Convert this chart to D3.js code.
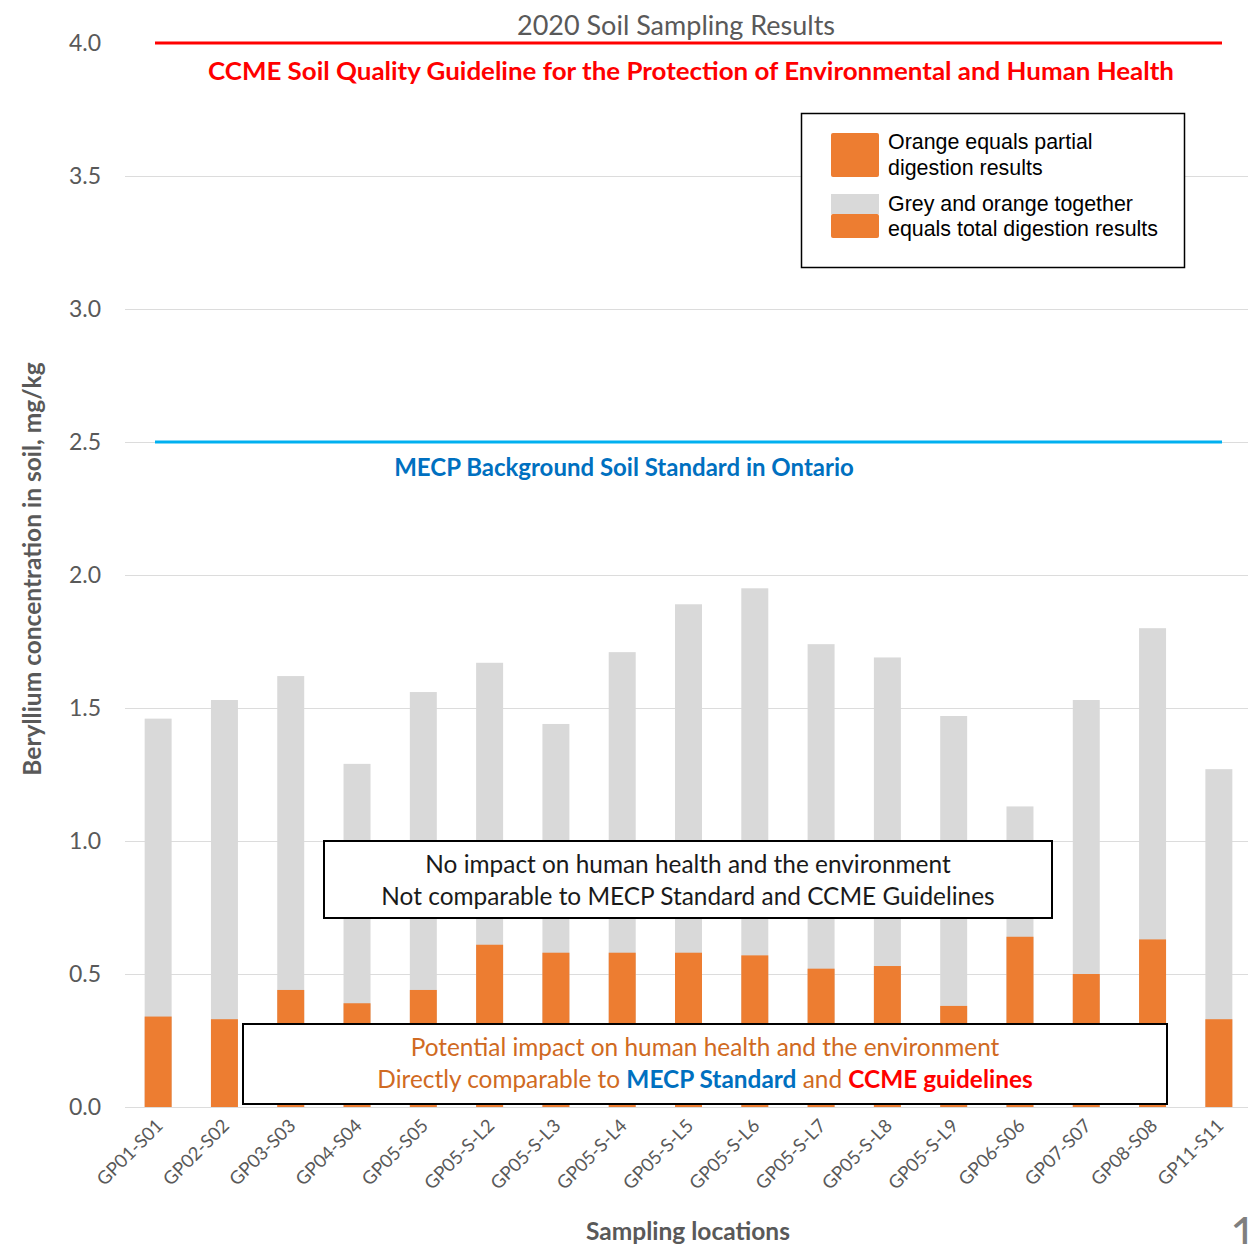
<!DOCTYPE html>
<html>
<head>
<meta charset="utf-8">
<script src="https://cdn.jsdelivr.net/npm/d3@7"></script>
<style>
  html, body { margin: 0; padding: 0; background: #fff; }
  svg { display: block; }
</style>
</head>
<body>
<svg id="chart" width="1248" height="1244"></svg>
<script>
// Sampling locations along the x axis
const categories = [
  "GP01-S01", "GP02-S02", "GP03-S03", "GP04-S04", "GP05-S05",
  "GP05-S-L2", "GP05-S-L3", "GP05-S-L4", "GP05-S-L5", "GP05-S-L6",
  "GP05-S-L7", "GP05-S-L8", "GP05-S-L9", "GP06-S06", "GP07-S07",
  "GP08-S08", "GP11-S11"
];

// Beryllium, mg/kg: total digestion (grey + orange) and partial digestion (orange)
const totalDigestion = [
  1.46, 1.53, 1.62, 1.29, 1.56,
  1.67, 1.44, 1.71, 1.89, 1.95,
  1.74, 1.69, 1.47, 1.13, 1.53,
  1.80, 1.27
];
const partialDigestion = [
  0.34, 0.33, 0.44, 0.39, 0.44,
  0.61, 0.58, 0.58, 0.58, 0.57,
  0.52, 0.53, 0.38, 0.64, 0.50,
  0.63, 0.33
];

// Reference levels
const ccmeGuideline = 4.0;
const mecpStandard = 2.5;

// Y axis tick values
const yTicks = [0, 0.5, 1.0, 1.5, 2.0, 2.5, 3.0, 3.5, 4.0];

const svg = d3.select("#chart");
const calibri = "Lato, 'Open Sans', sans-serif";
const arial = "'Liberation Sans', Arial, sans-serif";
const textGrey = "#595959";

const plotLeft = 125, plotRight = 1248;
const y = d3.scaleLinear().domain([0, 4]).range([1107, 43]);
const x = d3.scaleBand()
  .domain(categories)
  .range([plotLeft, 1252])
  .paddingInner(0.593)
  .paddingOuter(0.2965);

// Horizontal gridlines
svg.append("g")
  .selectAll("line")
  .data(yTicks.filter(v => v < 4))
  .join("line")
  .attr("x1", plotLeft).attr("x2", plotRight)
  .attr("y1", d => Math.round(y(d)) + 0.5)
  .attr("y2", d => Math.round(y(d)) + 0.5)
  .attr("stroke", "#dcdcdc")
  .attr("stroke-width", 1);

// Y axis labels
const yAxis = svg.append("g")
  .attr("transform", "translate(101,0)")
  .call(d3.axisLeft(y).tickValues(yTicks).tickFormat(d3.format(".1f")).tickSize(0).tickPadding(0));
yAxis.select(".domain").remove();
yAxis.selectAll("text")
  .attr("font-family", calibri)
  .attr("font-size", 23)
  .attr("fill", textGrey);

// Bars: grey total behind, orange partial in front
const bars = svg.append("g");
bars.selectAll("rect.total")
  .data(categories)
  .join("rect")
  .attr("class", "total")
  .attr("x", d => x(d))
  .attr("width", x.bandwidth())
  .attr("y", (d, i) => y(totalDigestion[i]))
  .attr("height", (d, i) => y(0) - y(totalDigestion[i]))
  .attr("fill", "#d9d9d9");
bars.selectAll("rect.partial")
  .data(categories)
  .join("rect")
  .attr("class", "partial")
  .attr("x", d => x(d))
  .attr("width", x.bandwidth())
  .attr("y", (d, i) => y(partialDigestion[i]))
  .attr("height", (d, i) => y(0) - y(partialDigestion[i]))
  .attr("fill", "#ed7d31");

// Reference lines
const lineX1 = 155, lineX2 = 1222;
svg.append("line")
  .attr("x1", lineX1).attr("x2", lineX2)
  .attr("y1", y(ccmeGuideline)).attr("y2", y(ccmeGuideline))
  .attr("stroke", "#ff0000").attr("stroke-width", 3);
svg.append("line")
  .attr("x1", lineX1).attr("x2", lineX2)
  .attr("y1", y(mecpStandard)).attr("y2", y(mecpStandard))
  .attr("stroke", "#00b0f0").attr("stroke-width", 3);

svg.append("text")
  .attr("x", 691).attr("y", 80)
  .attr("text-anchor", "middle")
  .attr("font-family", calibri).attr("font-weight", 700).attr("font-size", 24)
  .attr("textLength", 966).attr("lengthAdjust", "spacingAndGlyphs")
  .attr("fill", "#ff0000")
  .text("CCME Soil Quality Guideline for the Protection of Environmental and Human Health");

svg.append("text")
  .attr("x", 624).attr("y", 476)
  .attr("text-anchor", "middle")
  .attr("font-family", calibri).attr("font-weight", 700).attr("font-size", 24)
  .attr("fill", "#0070c0")
  .text("MECP Background Soil Standard in Ontario");

// Title
svg.append("text")
  .attr("x", 676).attr("y", 35)
  .attr("text-anchor", "middle")
  .attr("font-family", calibri).attr("font-weight", 400).attr("font-size", 27)
  .attr("fill", textGrey)
  .text("2020 Soil Sampling Results");

// Legend
const legend = svg.append("g");
legend.append("rect")
  .attr("x", 801.5).attr("y", 113.5).attr("width", 383).attr("height", 154)
  .attr("fill", "#fff").attr("stroke", "#000").attr("stroke-width", 1.5);
legend.append("rect").attr("x", 831).attr("y", 133).attr("width", 48).attr("height", 44).attr("rx", 2).attr("fill", "#ed7d31");
legend.append("rect").attr("x", 831).attr("y", 194).attr("width", 48).attr("height", 20).attr("fill", "#d9d9d9");
legend.append("rect").attr("x", 831).attr("y", 214).attr("width", 48).attr("height", 24).attr("rx", 2).attr("fill", "#ed7d31");
const legendLines = [
  ["Orange equals partial", 149],
  ["digestion results", 175],
  ["Grey and orange together", 211],
  ["equals total digestion results", 236]
];
legend.selectAll("text.item")
  .data(legendLines)
  .join("text")
  .attr("class", "item")
  .attr("x", 888).attr("y", d => d[1])
  .attr("font-family", arial).attr("font-size", 21.4)
  .attr("fill", "#000")
  .text(d => d[0]);

// Annotation box: total digestion
const box1 = svg.append("g");
box1.append("rect")
  .attr("x", 324).attr("y", 841).attr("width", 728).attr("height", 77)
  .attr("fill", "#fff").attr("stroke", "#000").attr("stroke-width", 2);
box1.append("text")
  .attr("x", 688).attr("y", 873).attr("text-anchor", "middle")
  .attr("font-family", calibri).attr("font-size", 24.4).attr("fill", "#1a1a1a")
  .text("No impact on human health and the environment");
box1.append("text")
  .attr("x", 688).attr("y", 905).attr("text-anchor", "middle")
  .attr("font-family", calibri).attr("font-size", 24.4).attr("fill", "#1a1a1a")
  .text("Not comparable to MECP Standard and CCME Guidelines");

// Annotation box: partial digestion
const box2 = svg.append("g");
box2.append("rect")
  .attr("x", 243).attr("y", 1024).attr("width", 924).attr("height", 80)
  .attr("fill", "#fff").attr("stroke", "#000").attr("stroke-width", 2);
box2.append("text")
  .attr("x", 705).attr("y", 1056).attr("text-anchor", "middle")
  .attr("font-family", calibri).attr("font-size", 24.4).attr("fill", "#d06a22")
  .text("Potential impact on human health and the environment");
const line2 = box2.append("text")
  .attr("x", 705).attr("y", 1088).attr("text-anchor", "middle")
  .attr("font-family", calibri).attr("font-size", 24.4).attr("fill", "#d06a22");
line2.append("tspan").text("Directly comparable to ");
line2.append("tspan").attr("font-weight", 700).attr("fill", "#0070c0").text("MECP Standard");
line2.append("tspan").text(" and ");
line2.append("tspan").attr("font-weight", 700).attr("fill", "#ff0000").text("CCME guidelines");

// X axis labels
const xAxis = svg.append("g")
  .attr("transform", `translate(0,${y(0)})`)
  .call(d3.axisBottom(x).tickSize(0).tickPadding(0));
xAxis.select(".domain").remove();
xAxis.selectAll("text")
  .attr("font-family", calibri)
  .attr("font-size", 18.5)
  .attr("fill", textGrey)
  .attr("text-anchor", "end")
  .attr("dy", 0)
  .attr("transform", "translate(6,20) rotate(-45)");

// Axis titles
svg.append("text")
  .attr("x", 688).attr("y", 1240).attr("text-anchor", "middle")
  .attr("font-family", calibri).attr("font-weight", 700).attr("font-size", 24.5)
  .attr("fill", textGrey)
  .text("Sampling locations");

svg.append("text")
  .attr("transform", "translate(41,569) rotate(-90)")
  .attr("text-anchor", "middle")
  .attr("font-family", calibri).attr("font-weight", 700).attr("font-size", 24.5)
  .attr("fill", textGrey)
  .text("Beryllium concentration in soil, mg/kg");

// Page number in the bottom-right corner
svg.append("text")
  .attr("x", 1230).attr("y", 1250)
  .attr("font-family", calibri).attr("font-size", 46)
  .attr("fill", "#7f7f7f")
  .text("1");
</script>
</body>
</html>
